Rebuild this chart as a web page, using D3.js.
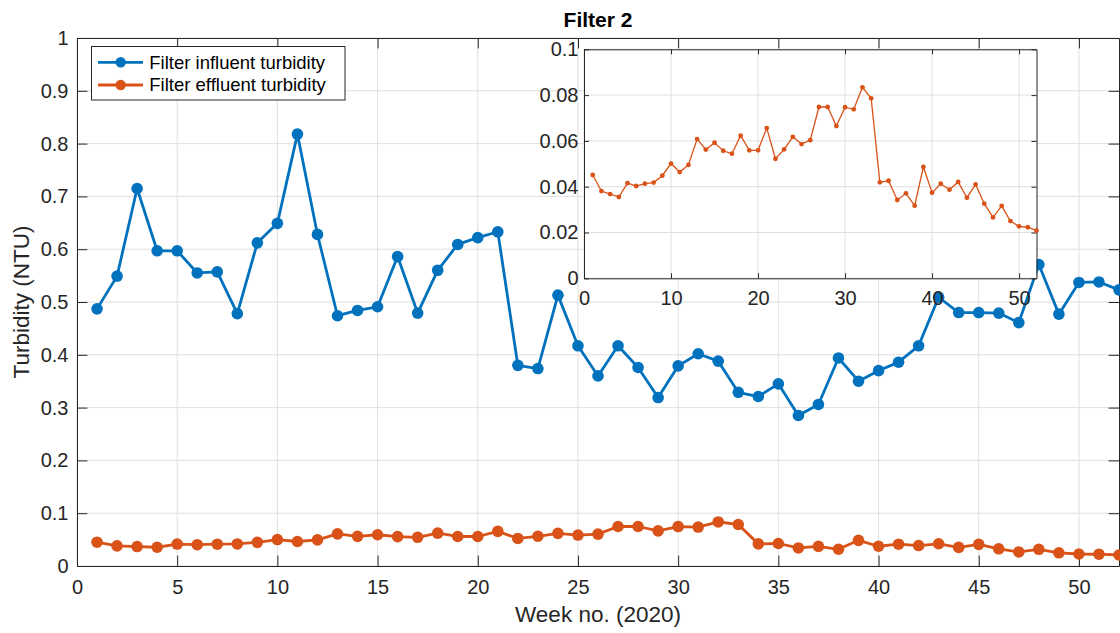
<!DOCTYPE html>
<html>
<head>
<meta charset="utf-8">
<script src="https://cdn.jsdelivr.net/npm/d3@7/dist/d3.min.js"></script>
<style>
  html, body { margin: 0; padding: 0; background: #fff; }
  svg { display: block; font-family: "Liberation Sans", Arial, Helvetica, sans-serif; }
</style>
</head>
<body>
<svg id="chart" width="1120" height="633"></svg>
<script>
// Weekly turbidity readings for Filter 2, 2020 (NTU)
const weeks = d3.range(1, 53);
const influent = [
  0.487, 0.549, 0.715, 0.597, 0.597, 0.555, 0.557, 0.478, 0.612, 0.649,
  0.818, 0.628, 0.474, 0.484, 0.491, 0.586, 0.479, 0.560, 0.609, 0.622,
  0.633, 0.380, 0.374, 0.513, 0.417, 0.360, 0.417, 0.376, 0.319, 0.379,
  0.402, 0.388, 0.329, 0.321, 0.345, 0.285, 0.306, 0.394, 0.350, 0.370,
  0.386, 0.417, 0.509, 0.480, 0.480, 0.479, 0.461, 0.571, 0.477, 0.537,
  0.538, 0.523
];
const effluent = [
  0.0451, 0.0381, 0.0368, 0.0355, 0.0416, 0.0403, 0.0413, 0.0418, 0.0448, 0.0501,
  0.0464, 0.0495, 0.0608, 0.0562, 0.0592, 0.0557, 0.0544, 0.0623, 0.0559, 0.0559,
  0.0656, 0.0522, 0.0563, 0.0618, 0.0586, 0.0603, 0.0748, 0.0748, 0.0665, 0.0747,
  0.0738, 0.0834, 0.0786, 0.0419, 0.0426, 0.0342, 0.0371, 0.0317, 0.0486, 0.0374,
  0.0413, 0.0387, 0.0421, 0.0352, 0.0410, 0.0326, 0.0266, 0.0316, 0.0250, 0.0227,
  0.0223, 0.0208
];
const seriesNames = ["Filter influent turbidity", "Filter effluent turbidity"];
const xTicks = [0, 5, 10, 15, 20, 25, 30, 35, 40, 45, 50];
const yTicks = [0, 0.1, 0.2, 0.3, 0.4, 0.5, 0.6, 0.7, 0.8, 0.9, 1];
const insetXTicks = [0, 10, 20, 30, 40, 50];
const insetYTicks = [0, 0.02, 0.04, 0.06, 0.08, 0.1];
const titleText = "Filter 2";
const xLabelText = "Week no. (2020)";
const yLabelText = "Turbidity (NTU)";

const BLUE = "#0072BD", ORANGE = "#D95319";
const AXIS = "#262626", GRID = "#dfdfdf", TEXT = "#262626";

const svg = d3.select("#chart");

// ---- main axes ----
const M = { left: 77, right: 1119, top: 38, bottom: 566 };
const x = d3.scaleLinear().domain([0, 52]).range([M.left, M.right]);
const y = d3.scaleLinear().domain([0, 1]).range([M.bottom, M.top]);
const fmt = d3.format("~g");

const main = svg.append("g");

// grid
main.append("g").selectAll("line").data(xTicks).join("line")
  .attr("x1", d => x(d)).attr("x2", d => x(d))
  .attr("y1", M.top).attr("y2", M.bottom)
  .attr("stroke", GRID).attr("stroke-width", 1);
main.append("g").selectAll("line").data(yTicks).join("line")
  .attr("x1", M.left).attr("x2", M.right)
  .attr("y1", d => y(d)).attr("y2", d => y(d))
  .attr("stroke", GRID).attr("stroke-width", 1);

function styleAxis(g, size) {
  g.selectAll(".domain").attr("stroke", AXIS).attr("stroke-width", 1);
  g.selectAll(".tick line").attr("stroke", AXIS).attr("stroke-width", 1);
  g.selectAll(".tick text").attr("fill", TEXT)
    .attr("font-size", size)
    .attr("font-family", "Liberation Sans, Arial, sans-serif");
}

const tickLen = 10.4;
main.append("g").attr("transform", `translate(0,${M.bottom})`)
  .call(d3.axisBottom(x).tickValues(xTicks).tickFormat(fmt)
    .tickSizeInner(-tickLen).tickSizeOuter(0).tickPadding(14))
  .call(g => styleAxis(g, 20));
main.append("g").attr("transform", `translate(${M.left},0)`)
  .call(d3.axisLeft(y).tickValues(yTicks).tickFormat(fmt)
    .tickSizeInner(-tickLen).tickSizeOuter(0).tickPadding(8.5))
  .call(g => styleAxis(g, 20));
main.append("g").attr("transform", `translate(0,${M.top})`)
  .call(d3.axisTop(x).tickValues(xTicks).tickFormat("")
    .tickSizeInner(-tickLen).tickSizeOuter(0))
  .call(g => styleAxis(g, 20));
main.append("g").attr("transform", `translate(${M.right},0)`)
  .call(d3.axisRight(y).tickValues(yTicks).tickFormat("")
    .tickSizeInner(-tickLen).tickSizeOuter(0))
  .call(g => styleAxis(g, 20));

// series
const mainLine = d3.line().x((d, i) => x(weeks[i])).y(d => y(d));
[[influent, BLUE], [effluent, ORANGE]].forEach(([vals, col]) => {
  main.append("path").datum(vals)
    .attr("d", mainLine).attr("fill", "none")
    .attr("stroke", col).attr("stroke-width", 2.8)
    .attr("stroke-linejoin", "round");
  main.append("g").selectAll("circle").data(vals).join("circle")
    .attr("cx", (d, i) => x(weeks[i])).attr("cy", d => y(d))
    .attr("r", 5.8).attr("fill", col);
});

// titles
svg.append("text").attr("x", (M.left + M.right) / 2).attr("y", 27)
  .attr("text-anchor", "middle").attr("font-weight", "bold")
  .attr("font-size", 21).attr("fill", "#000").text(titleText);
svg.append("text").attr("x", (M.left + M.right) / 2).attr("y", 622)
  .attr("text-anchor", "middle").attr("font-size", 22.5)
  .attr("fill", TEXT).text(xLabelText);
svg.append("text")
  .attr("transform", `translate(28.5,${(M.top + M.bottom) / 2}) rotate(-90)`)
  .attr("text-anchor", "middle").attr("font-size", 22.5)
  .attr("fill", TEXT).text(yLabelText);

// legend
const leg = svg.append("g");
leg.append("rect").attr("x", 91.5).attr("y", 46.5)
  .attr("width", 253.5).attr("height", 53.5)
  .attr("fill", "#fff").attr("stroke", AXIS).attr("stroke-width", 1);
[BLUE, ORANGE].forEach((col, i) => {
  const cy = 62.3 + i * 22.7;
  leg.append("line").attr("x1", 98).attr("x2", 143)
    .attr("y1", cy).attr("y2", cy)
    .attr("stroke", col).attr("stroke-width", 2.8);
  leg.append("circle").attr("cx", 120.7).attr("cy", cy).attr("r", 5.2).attr("fill", col);
  leg.append("text").attr("x", 149.3).attr("y", cy).attr("dy", "0.35em")
    .attr("font-size", 18.5).attr("fill", "#000").text(seriesNames[i]);
});

// ---- inset: effluent only ----
const I = { left: 584, right: 1036.5, top: 49.3, bottom: 278.3 };
const xi = d3.scaleLinear().domain([0, 52]).range([I.left, I.right]);
const yi = d3.scaleLinear().domain([0, 0.1]).range([I.bottom, I.top]);
const inset = svg.append("g");

inset.append("rect").attr("x", I.left).attr("y", I.top)
  .attr("width", I.right - I.left).attr("height", I.bottom - I.top)
  .attr("fill", "#fff");
inset.append("g").selectAll("line").data(insetXTicks).join("line")
  .attr("x1", d => xi(d)).attr("x2", d => xi(d))
  .attr("y1", I.top).attr("y2", I.bottom)
  .attr("stroke", GRID).attr("stroke-width", 1);
inset.append("g").selectAll("line").data(insetYTicks).join("line")
  .attr("x1", I.left).attr("x2", I.right)
  .attr("y1", d => yi(d)).attr("y2", d => yi(d))
  .attr("stroke", GRID).attr("stroke-width", 1);

const itick = 5;
inset.append("g").attr("transform", `translate(0,${I.bottom})`)
  .call(d3.axisBottom(xi).tickValues(insetXTicks).tickFormat(fmt)
    .tickSizeInner(-itick).tickSizeOuter(0).tickPadding(12.5))
  .call(g => styleAxis(g, 20));
inset.append("g").attr("transform", `translate(${I.left},0)`)
  .call(d3.axisLeft(yi).tickValues(insetYTicks).tickFormat(fmt)
    .tickSizeInner(-itick).tickSizeOuter(0).tickPadding(5.5))
  .call(g => styleAxis(g, 20));
inset.append("g").attr("transform", `translate(0,${I.top})`)
  .call(d3.axisTop(xi).tickValues(insetXTicks).tickFormat("")
    .tickSizeInner(-itick).tickSizeOuter(0))
  .call(g => styleAxis(g, 20));
inset.append("g").attr("transform", `translate(${I.right},0)`)
  .call(d3.axisRight(yi).tickValues(insetYTicks).tickFormat("")
    .tickSizeInner(-itick).tickSizeOuter(0))
  .call(g => styleAxis(g, 20));

inset.append("path").datum(effluent)
  .attr("d", d3.line().x((d, i) => xi(weeks[i])).y(d => yi(d)))
  .attr("fill", "none").attr("stroke", ORANGE).attr("stroke-width", 1.3);
inset.append("g").selectAll("circle").data(effluent).join("circle")
  .attr("cx", (d, i) => xi(weeks[i])).attr("cy", d => yi(d))
  .attr("r", 2.4).attr("fill", ORANGE);
</script>
</body>
</html>
